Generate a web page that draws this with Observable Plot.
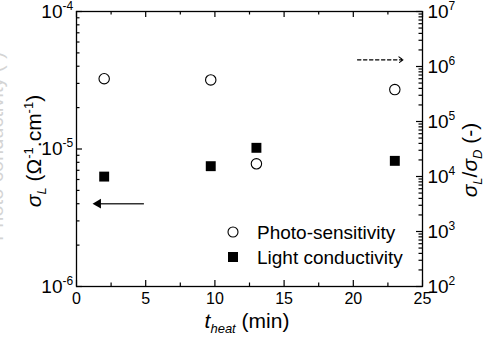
<!DOCTYPE html>
<html><head><meta charset="utf-8">
<script src="https://cdn.jsdelivr.net/npm/d3@7"></script>
<script src="https://cdn.jsdelivr.net/npm/@observablehq/plot@0.6"></script>
<style>
body{margin:0;background:#fff;}
#chart{position:relative;width:488px;height:346px;font-family:"Liberation Sans",Arial,sans-serif;}
#chart svg{position:absolute;left:0;top:0;}
</style></head><body><div id="chart"></div>
<script>
// ---- data ----
const tHeat = [2, 9.7, 13, 23];
const lightConductivity = [6.3e-6, 7.5e-6, 1.02e-5, 8.2e-6];   // Ω^-1.cm^-1 (left axis)
const photoSensitivity = [6.0e5, 5.7e5, 1.7e4, 3.8e5];          // σL/σD (right axis)
const xTicks = [0, 5, 10, 15, 20, 25];
const xMinorTicks = [2.5, 7.5, 12.5, 17.5, 22.5];
const leftTicks = [1e-6, 1e-5, 1e-4];
const rightTicks = [1e2, 1e3, 1e4, 1e5, 1e6, 1e7];
const leftArrow = [{x1: 4.87, x2: 1.42, y: 4.0e-6}];
const rightArrow = [{x1: 20.3, x2: 23.6, y: 1.32e6}];

const FONT = '"Liberation Sans", Arial, sans-serif';
const W = 488, H = 346;
const M = {marginLeft: 76, marginRight: 66, marginTop: 11, marginBottom: 60};
const PW = W - M.marginLeft - M.marginRight, PH = H - M.marginTop - M.marginBottom;
const minorOf = (dom, majors) => d3.scaleLog().domain(dom).ticks().filter(v => !majors.some(m => Math.abs(m - v) / m < 1e-9));
const leftMinor = minorOf([1e-6, 1e-4], leftTicks);
const rightMinor = minorOf([1e2, 1e7], rightTicks);
const expo = d => String(Math.round(Math.log10(d)));
const MAJ = 6, MIN = 3.5, TW = 1.2;
// inward ticks: rules trimmed with insets so only a short stub remains at the frame edge
const bottomTicks = (data, len) => Plot.ruleX(data, {x: d => d, insetTop: PH - len, stroke: "black", strokeWidth: TW});
const topTicks = (data, len) => Plot.ruleX(data, {x: d => d, insetBottom: PH - len, stroke: "black", strokeWidth: TW});
const leftTicksMark = (data, len) => Plot.ruleY(data, {y: d => d, insetRight: PW - len, stroke: "black", strokeWidth: TW});
const rightTicksMark = (data, len) => Plot.ruleY(data, {y: d => d, insetLeft: PW - len, stroke: "black", strokeWidth: TW});

const lightData = tHeat.map((t, i) => ({t, v: lightConductivity[i]}));
const photoData = tHeat.map((t, i) => ({t, v: photoSensitivity[i]}));

const p1 = Plot.plot({
  width: W, height: H, ...M,
  style: {fontFamily: FONT, color: "black", background: "transparent", overflow: "visible"},
  x: {domain: [0, 25], axis: null},
  y: {type: "log", domain: [1e-6, 1e-4], axis: null},
  marks: [
    bottomTicks(xTicks, MAJ), bottomTicks(xMinorTicks, MIN),
    topTicks(xTicks, MAJ), topTicks(xMinorTicks, MIN),
    leftTicksMark(leftTicks, MAJ), leftTicksMark(leftMinor, MIN),
    Plot.frame({stroke: "black", strokeWidth: 1.3}),
    Plot.text(xTicks, {x: d => d, frameAnchor: "bottom", text: d => String(d), lineAnchor: "top", dy: 6, fontSize: 16, fill: "black"}),
    Plot.text(leftTicks, {y: d => d, frameAnchor: "left", text: () => "10", textAnchor: "end", dx: -14, fontSize: 19, fill: "black"}),
    Plot.text(leftTicks, {y: d => d, frameAnchor: "left", text: expo, textAnchor: "start", dx: -14, dy: -5.5, fontSize: 12, fill: "black"}),
    Plot.link(leftArrow, {x1: "x1", x2: "x2", y1: "y", y2: "y", stroke: "#333", strokeWidth: 1.5}),
    Plot.dot(leftArrow, {x: "x2", y: "y", symbol: "triangle", rotate: -90, r: 3.6, fill: "black", stroke: "none", dx: 2}),
    Plot.dot(lightData, {x: "t", y: "v", symbol: "square", r: 5.6, fill: "black", stroke: "none"})
  ]
});

const p2 = Plot.plot({
  width: W, height: H, ...M,
  style: {fontFamily: FONT, color: "black", background: "transparent", overflow: "visible"},
  x: {domain: [0, 25], axis: null},
  y: {type: "log", domain: [1e2, 1e7], axis: null},
  marks: [
    rightTicksMark(rightTicks, MAJ), rightTicksMark(rightMinor, MIN),
    Plot.text(rightTicks, {y: d => d, frameAnchor: "right", text: () => "10", textAnchor: "start", dx: 5, fontSize: 19, fill: "black"}),
    Plot.text(rightTicks, {y: d => d, frameAnchor: "right", text: expo, textAnchor: "start", dx: 26, dy: -5.5, fontSize: 12, fill: "black"}),
    Plot.arrow(rightArrow, {x1: "x1", x2: "x2", y1: "y", y2: "y", stroke: "black", strokeWidth: 1.1, strokeDasharray: "3.5,2.5", headLength: 7, headAngle: 70}),
    Plot.dot(photoData, {x: "t", y: "v", symbol: "circle", r: 5.2, fill: "white", stroke: "black", strokeWidth: 1.1})
  ]
});

const chart = document.getElementById("chart");
chart.appendChild(p1);
chart.appendChild(p2);

// axis titles and legend
const s = d3.select(p2);
s.append("text").attr("transform", "translate(3,52) rotate(-90)").attr("text-anchor", "end")
  .attr("font-size", 20).attr("fill", "#d4d4d4").attr("font-family", FONT).text("Photo-conductivity (-)");

const lt = s.append("text").attr("transform", "translate(41,151) rotate(-90)").attr("text-anchor", "middle")
  .attr("font-size", 21).attr("fill", "black").attr("font-family", FONT);
lt.append("tspan").attr("font-style", "italic").text("σ");
lt.append("tspan").attr("font-size", 13).attr("dy", 5).attr("font-style", "italic").text("L");
lt.append("tspan").attr("dy", -5).text(" (Ω");
lt.append("tspan").attr("font-size", 13).attr("dy", -8).text("-1");
lt.append("tspan").attr("dy", 8).text(".cm");
lt.append("tspan").attr("font-size", 13).attr("dy", -8).text("-1");
lt.append("tspan").attr("dy", 8).text(")");

const rt = s.append("text").attr("transform", "translate(477,160) rotate(-90)").attr("text-anchor", "middle")
  .attr("font-size", 21).attr("fill", "black").attr("font-family", FONT);
rt.append("tspan").attr("font-style", "italic").text("σ");
rt.append("tspan").attr("font-size", 13).attr("dy", 5).attr("font-style", "italic").text("L");
rt.append("tspan").attr("dy", -5).text("/");
rt.append("tspan").attr("font-style", "italic").text("σ");
rt.append("tspan").attr("font-size", 13).attr("dy", 5).attr("font-style", "italic").text("D");
rt.append("tspan").attr("dy", -5).text(" (-)");

const xt = s.append("text").attr("x", 247).attr("y", 328).attr("text-anchor", "middle")
  .attr("font-size", 21).attr("fill", "black").attr("font-family", FONT);
xt.append("tspan").attr("font-style", "italic").text("t");
xt.append("tspan").attr("font-size", 13).attr("dy", 5).attr("font-style", "italic").text("heat");
xt.append("tspan").attr("dy", -5).text(" (min)");

const lg = s.append("g").attr("font-family", FONT).attr("font-size", 19).attr("fill", "black").attr("text-anchor", "start");
lg.append("circle").attr("cx", 233).attr("cy", 232).attr("r", 5).attr("fill", "white").attr("stroke", "black").attr("stroke-width", 1.1);
lg.append("rect").attr("x", 228).attr("y", 252).attr("width", 10).attr("height", 10).attr("fill", "black");
lg.append("text").attr("x", 257).attr("y", 239).attr("text-anchor", "start").text("Photo-sensitivity");
lg.append("text").attr("x", 257).attr("y", 264).attr("text-anchor", "start").text("Light conductivity");
</script></body></html>
